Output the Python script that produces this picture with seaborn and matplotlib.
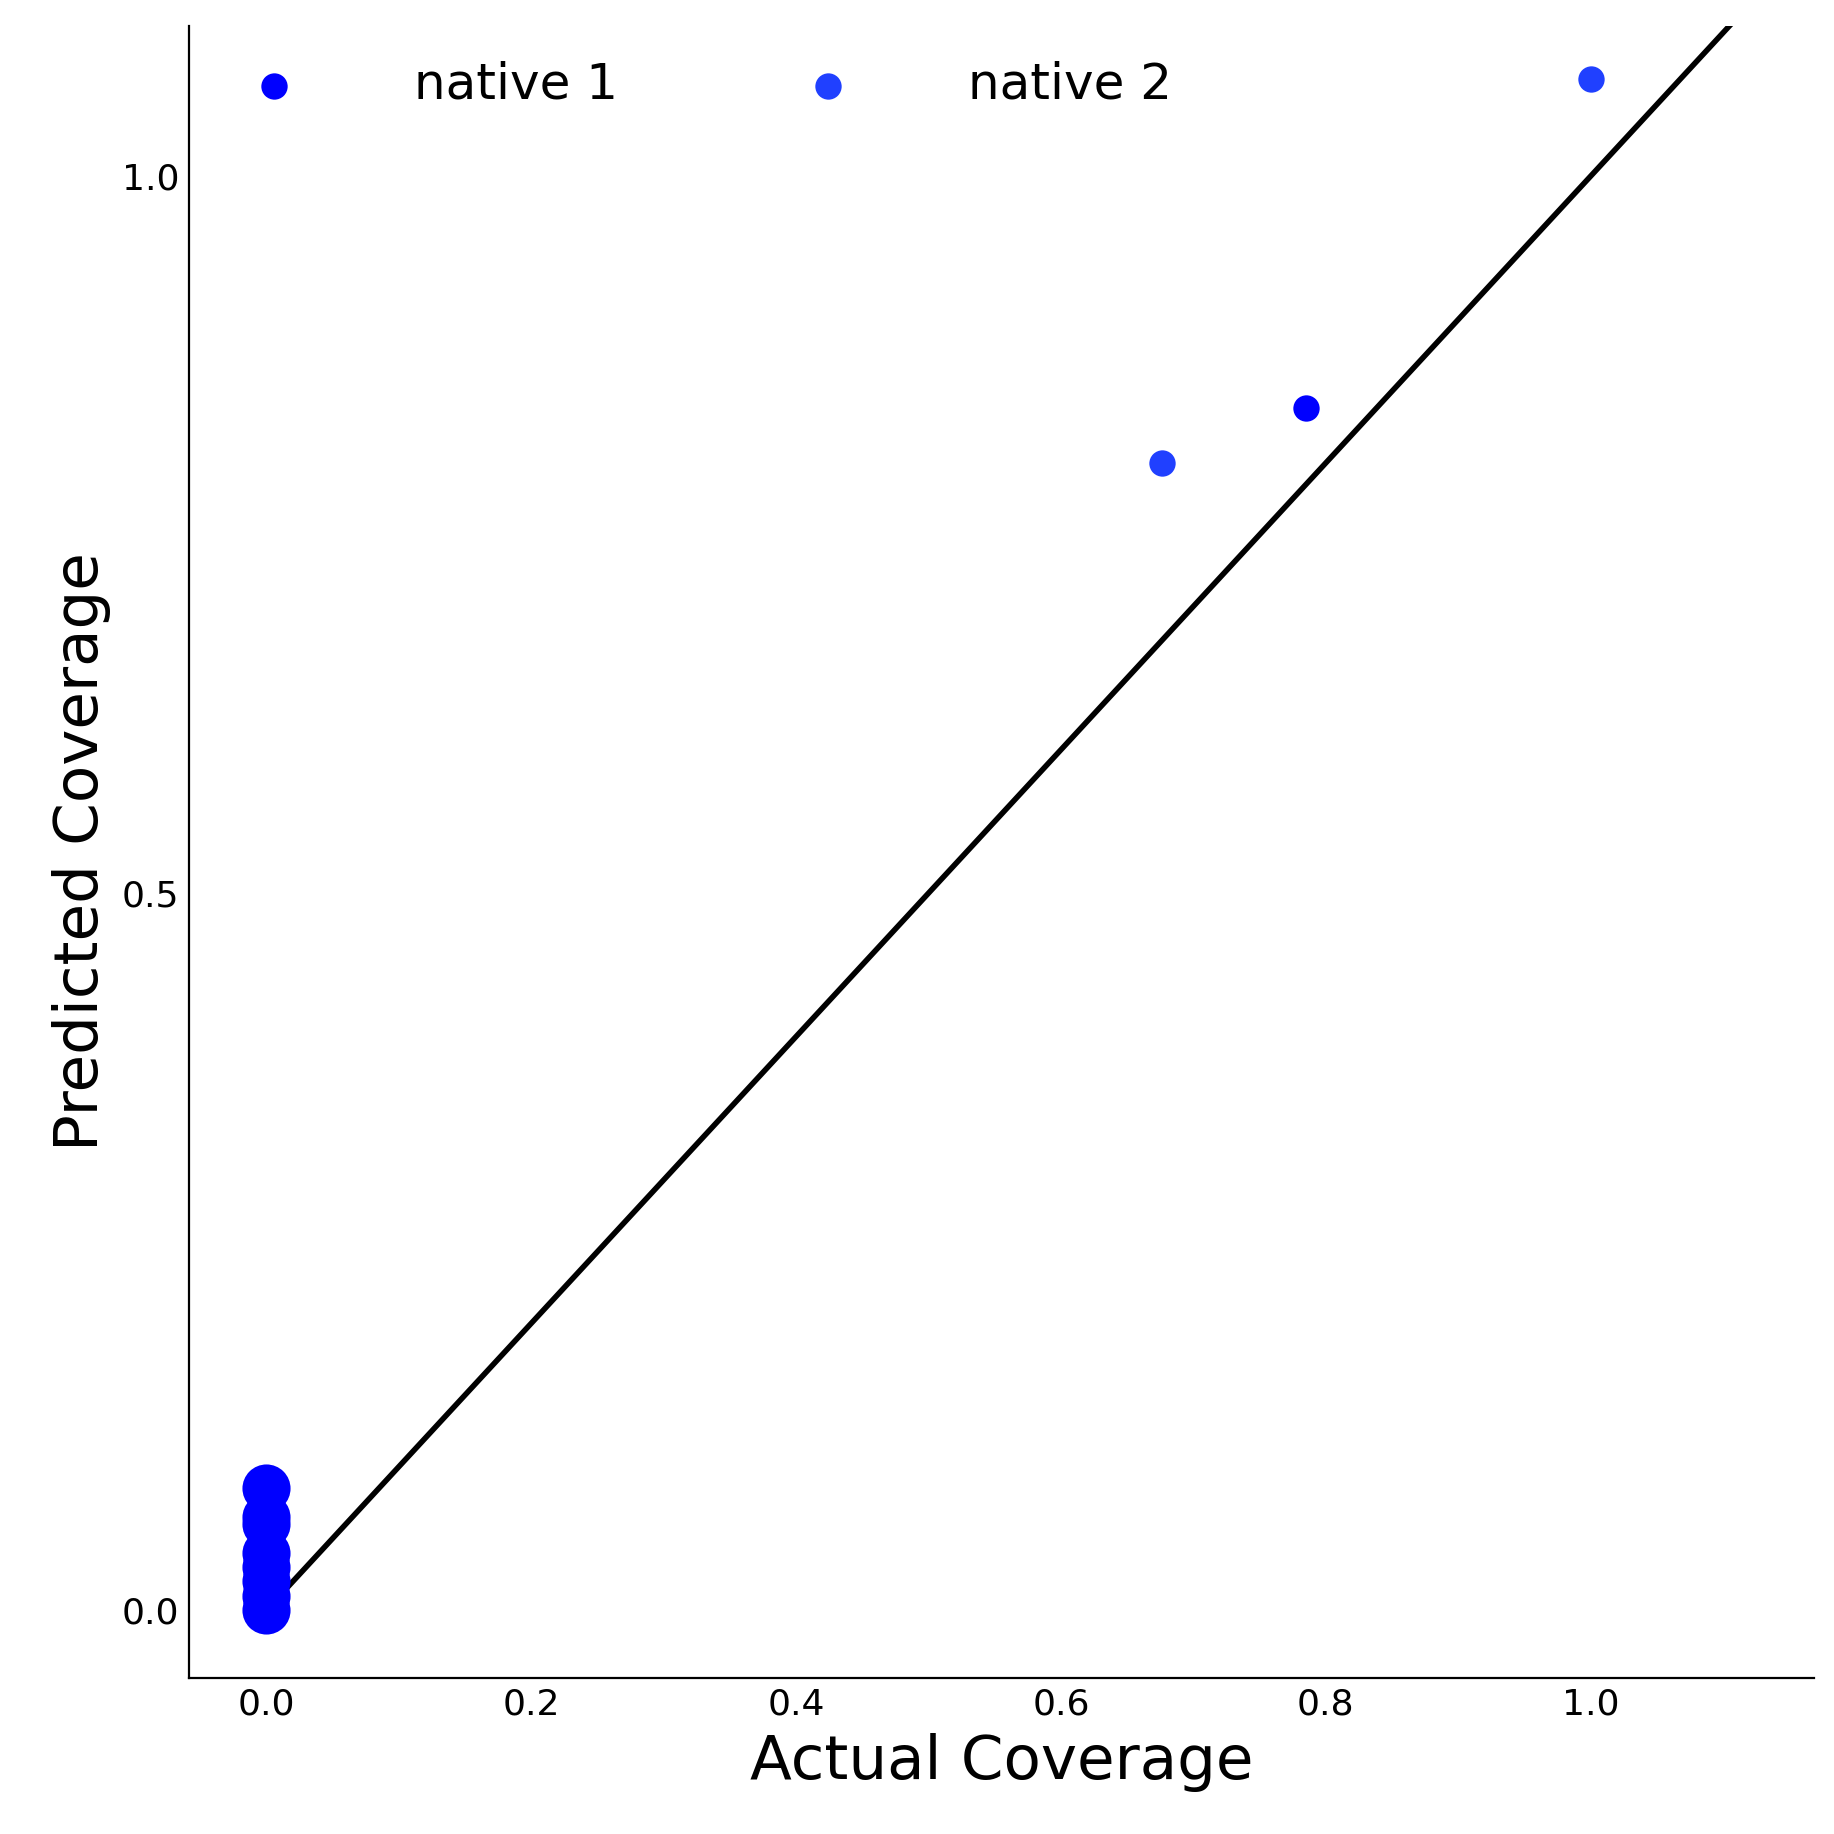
import matplotlib
matplotlib.use("Agg")
import matplotlib.pyplot as plt
import seaborn as sns

sns.set_style("white")
plt.rcParams["text.color"] = "black"
plt.rcParams["axes.labelcolor"] = "black"
plt.rcParams["xtick.color"] = "black"
plt.rcParams["ytick.color"] = "black"

n1_x = [0.785]
n1_y = [0.838]
n2_x = [0.676, 1.0]
n2_y = [0.800, 1.068]
zero_x = [0, 0, 0, 0, 0, 0, 0, 0]
zero_y = [0.0, 0.01, 0.02, 0.03, 0.04, 0.06, 0.065, 0.085]
line_x = [0.0, 1.2]
line_y = [0.0, 1.2]

fig, ax = plt.subplots(figsize=(9.17, 9.17), dpi=200)
ax.plot(line_x, line_y, color="black", lw=2, zorder=1)
sns.scatterplot(x=zero_x, y=zero_y, ax=ax, color="#0000FF", s=300, linewidth=0, zorder=2)
sns.scatterplot(x=n1_x, y=n1_y, ax=ax, color="#0000FF", s=90, linewidth=0, label="native 1", zorder=3)
sns.scatterplot(x=n2_x, y=n2_y, ax=ax, color="#2040FF", s=90, linewidth=0, label="native 2", zorder=3)

ax.set_xlim(-0.0586, 1.1686)
ax.set_ylim(-0.0475, 1.105)
ax.set_xticks([0, 0.2, 0.4, 0.6, 0.8, 1.0])
ax.set_yticks([0, 0.5, 1.0])
ax.tick_params(labelsize=13, length=0)
ax.set_xlabel("Actual Coverage", fontsize=22)
ax.set_ylabel("Predicted Coverage", fontsize=22)
for s in ["top", "right"]:
    ax.spines[s].set_visible(False)
for s in ["left", "bottom"]:
    ax.spines[s].set_color("black")
ax.legend(loc="upper left", ncol=2, frameon=False, fontsize=18, handletextpad=1.8, columnspacing=3.2,
          borderaxespad=0.3, labelcolor="black")
fig.subplots_adjust(left=0.103, right=0.989, top=0.986, bottom=0.085)
fig.savefig("out.png")
